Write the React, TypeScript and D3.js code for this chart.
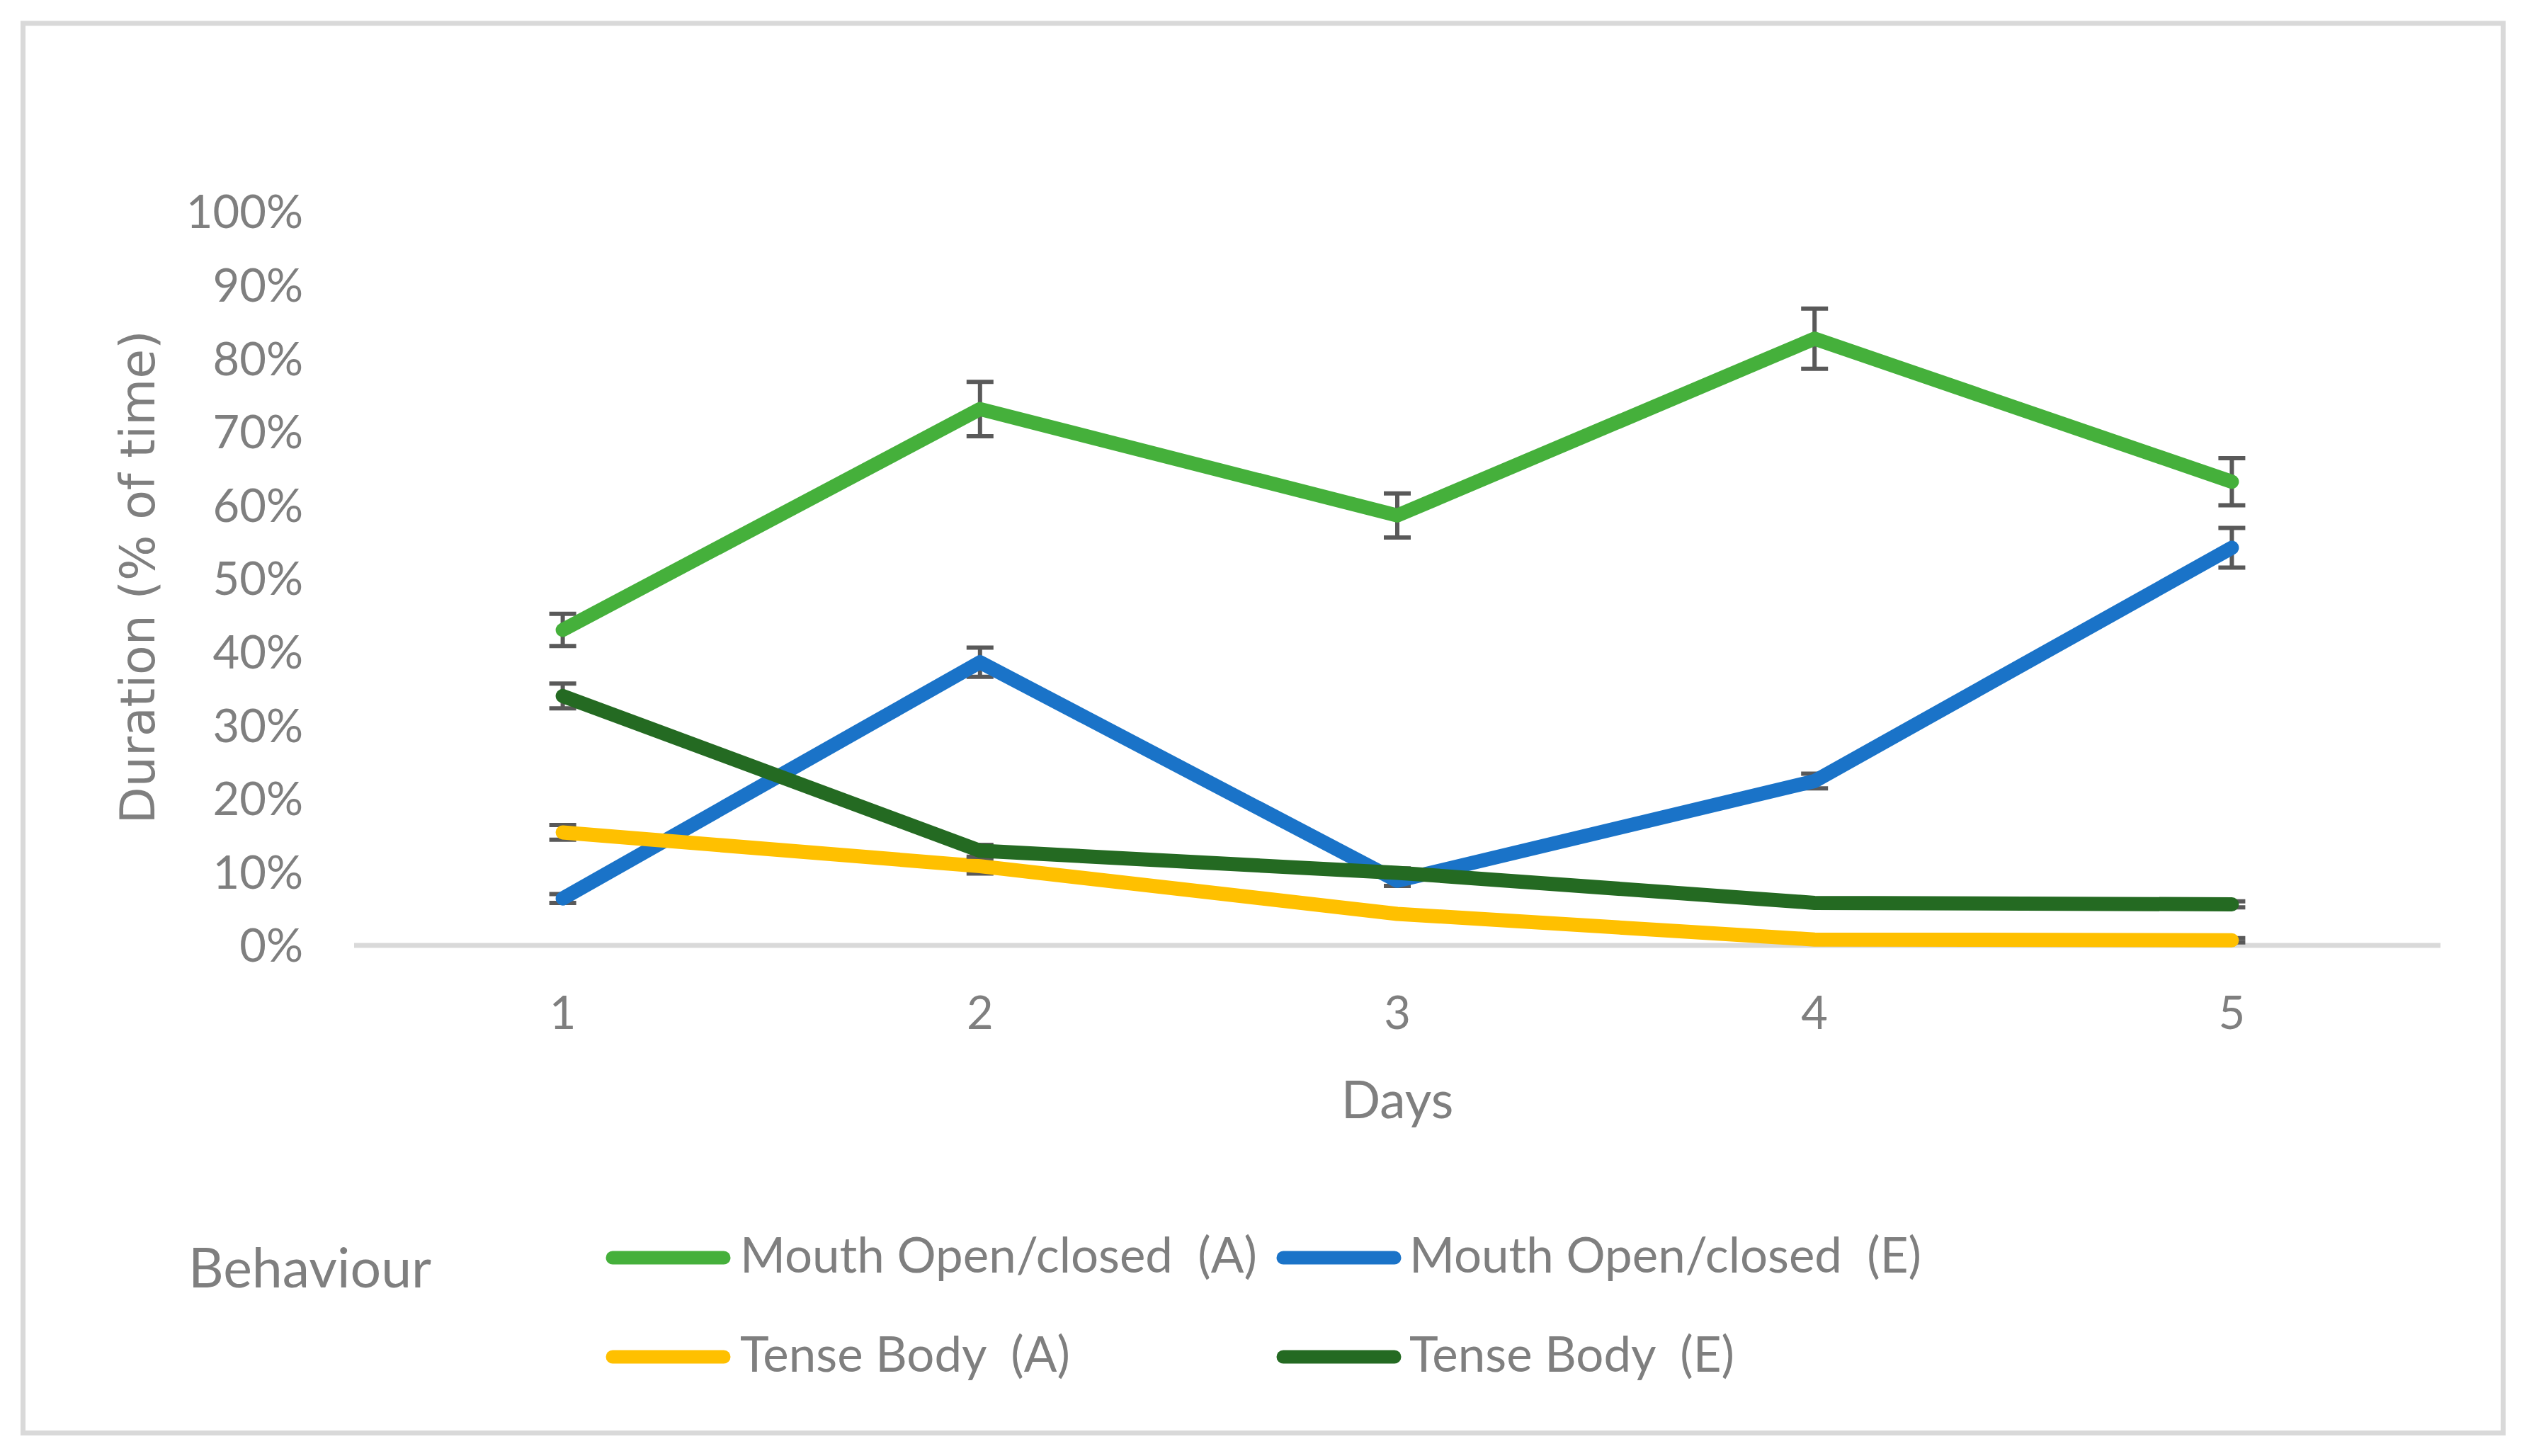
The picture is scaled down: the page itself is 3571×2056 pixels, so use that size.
import React from 'react';
import * as d3 from 'd3';

// ---- Data ----
const days: string[] = ['1', '2', '3', '4', '5'];
const yTickValues: number[] = [0, 10, 20, 30, 40, 50, 60, 70, 80, 90, 100];

const seriesNames: string[] = [
  'Mouth Open/closed  (A)',
  'Mouth Open/closed  (E)',
  'Tense Body  (A)',
  'Tense Body  (E)',
];
const mouthA: number[] = [43.0, 73.1, 58.6, 82.7, 63.2];
const mouthAErr: number[] = [2.2, 3.7, 3.0, 4.1, 3.2];
const mouthE: number[] = [6.4, 38.6, 8.8, 22.4, 54.2];
const mouthEErr: number[] = [0.6, 2.0, 0.7, 1.0, 2.7];
const tenseA: number[] = [15.4, 10.8, 4.3, 0.8, 0.7];
const tenseAErr: number[] = [1.0, 1.0, 0.4, 0.3, 0.3];
const tenseE: number[] = [34.0, 12.9, 9.9, 5.8, 5.6];
const tenseEErr: number[] = [1.7, 0.8, 0.6, 0.4, 0.4];
const seriesColors: string[] = ['#45B03B', '#1A73C8', '#FFC000', '#246A22'];

const legendTitle = 'Behaviour';
const xTitle = 'Days';
const yTitle = 'Duration (% of time)';

const W = 3571;
const H = 2056;
const TEXT = '#7f7f7f';
const LATO = 'Lato, "Open Sans", sans-serif';

export default function App() {
  const x = d3.scalePoint<string>().domain(days).range([500, 3446]).padding(0.5);
  const y = d3.scaleLinear().domain([0, 100]).range([1335, 299]);

  const series = [
    { name: seriesNames[0], values: mouthA, errs: mouthAErr, color: seriesColors[0] },
    { name: seriesNames[1], values: mouthE, errs: mouthEErr, color: seriesColors[1] },
    { name: seriesNames[2], values: tenseA, errs: tenseAErr, color: seriesColors[2] },
    { name: seriesNames[3], values: tenseE, errs: tenseEErr, color: seriesColors[3] },
  ];

  const line = d3
    .line<number>()
    .x((_, i) => x(days[i]) as number)
    .y((d) => y(d));

  const capHalf = 19;

  const legendPos = [
    { lx: 865, ty: 1797, cy: 1776, tx: 1045 },
    { lx: 1812, ty: 1797, cy: 1776, tx: 1990 },
    { lx: 865, ty: 1937, cy: 1916, tx: 1045 },
    { lx: 1812, ty: 1937, cy: 1916, tx: 1990 },
  ];

  return (
    <svg
      width={W}
      height={H}
      viewBox={`0 0 ${W} ${H}`}
      style={{ position: 'absolute', left: 0, top: 0, background: '#fff' }}
    >
      <rect x={0} y={0} width={W} height={H} fill="#fff" />
      <rect x={32.5} y={33} width={3502} height={1990.5} fill="none" stroke="#d9d9d9" strokeWidth={7} />

      {/* y tick labels */}
      {yTickValues.map((t) => (
        <text
          key={'yt' + t}
          x={428}
          y={y(t)}
          dy="0.36em"
          textAnchor="end"
          fontFamily={LATO}
          fontSize={65}
          fill={TEXT}
        >
          {t}%
        </text>
      ))}

      {/* x axis line */}
      <line x1={500} x2={3446} y1={y(0)} y2={y(0)} stroke="#d9d9d9" strokeWidth={7} />

      {/* x tick labels */}
      {days.map((d) => (
        <text key={'xt' + d} x={x(d)} y={1453} textAnchor="middle" fontFamily={LATO} fontSize={65} fill={TEXT}>
          {d}
        </text>
      ))}

      {/* axis titles */}
      <text x={1973} y={1579} textAnchor="middle" fontFamily={LATO} fontSize={73} fill={TEXT}>
        {xTitle}
      </text>
      <text
        transform="translate(218,815) rotate(-90)"
        textAnchor="middle"
        fontFamily='"DejaVu Sans", Verdana, sans-serif'
        fontSize={68}
        fill={TEXT}
      >
        {yTitle}
      </text>

      {/* series */}
      {series.map((s, si) => (
        <g key={'s' + si}>
          {s.values.map((v, i) => {
            const cx = x(days[i]) as number;
            const top = y(v + s.errs[i]);
            const bot = y(Math.max(0, v - s.errs[i]));
            return (
              <g key={'e' + i} stroke="#595959" strokeWidth={6}>
                <line x1={cx} x2={cx} y1={top} y2={bot} />
                <line x1={cx - capHalf} x2={cx + capHalf} y1={top} y2={top} />
                <line x1={cx - capHalf} x2={cx + capHalf} y1={bot} y2={bot} />
              </g>
            );
          })}
          <path
            d={line(s.values) || ''}
            fill="none"
            stroke={s.color}
            strokeWidth={20}
            strokeLinecap="round"
            strokeLinejoin="round"
          />
        </g>
      ))}

      {/* legend */}
      <text x={266} y={1818} fontFamily={LATO} fontSize={77} fill={TEXT}>
        {legendTitle}
      </text>
      {series.map((s, si) => {
        const p = legendPos[si];
        return (
          <g key={'lg' + si}>
            <line
              x1={p.lx}
              x2={p.lx + 157}
              y1={p.cy}
              y2={p.cy}
              stroke={s.color}
              strokeWidth={19}
              strokeLinecap="round"
            />
            <text x={p.tx} y={p.ty} fontFamily={LATO} fontSize={69} fill={TEXT} style={{ whiteSpace: 'pre' }}>
              {s.name}
            </text>
          </g>
        );
      })}
    </svg>
  );
}
